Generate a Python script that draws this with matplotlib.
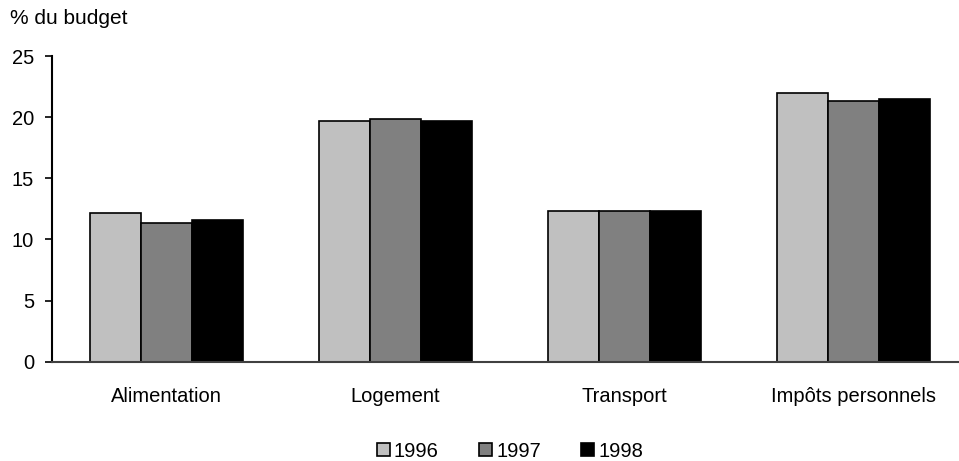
import numpy as np
import matplotlib.pyplot as plt

plt.rcParams['font.family'] = ['Liberation Sans', 'DejaVu Sans']

categories = ['Alimentation', 'Logement', 'Transport', 'Impôts personnels']
years = ['1996', '1997', '1998']
values_1996 = [12.2, 19.65, 12.35, 21.95]
values_1997 = [11.35, 19.85, 12.35, 21.3]
values_1998 = [11.55, 19.7, 12.35, 21.5]
colors = ['#c0c0c0', '#808080', '#000000']

fig = plt.figure(figsize=(9.59, 4.61), dpi=100)
ax = fig.add_axes([52 / 959, 99.3 / 461, 915.5 / 959, 305.7 / 461])

x = np.arange(len(categories))
width = 0.223
series = [values_1996, values_1997, values_1998]
for i, (vals, col, yr) in enumerate(zip(series, colors, years)):
    ax.bar(x + (i - 1) * width, vals, width, color=col, edgecolor='black',
           linewidth=1.2, label=yr)

ax.set_xlim(-0.5, 3.5)
ax.set_ylim(0, 25)
ax.set_yticks([0, 5, 10, 15, 20, 25])
ax.set_xticks(x)
ax.set_xticklabels(categories, fontsize=14.5)
ax.tick_params(axis='x', length=0, pad=18)
ax.tick_params(axis='y', length=5, width=1.2, labelsize=14.5, pad=8, direction='out')
for s in ['top', 'right']:
    ax.spines[s].set_visible(False)
ax.spines['left'].set_linewidth(1.5)
ax.spines['bottom'].set_linewidth(1.5)
ax.spines['bottom'].set_color('#404040')

fig.text(10 / 959, 1 - 18 / 461, '% du budget', fontsize=15, va='center', ha='left')

fig.legend(loc='center', bbox_to_anchor=(510 / 959, 1 - 451 / 461), ncol=3,
           frameon=False, fontsize=14.5, handlelength=0.65, handleheight=0.65,
           handletextpad=0.2, columnspacing=2.0)

fig.savefig('out.png', dpi=100)
